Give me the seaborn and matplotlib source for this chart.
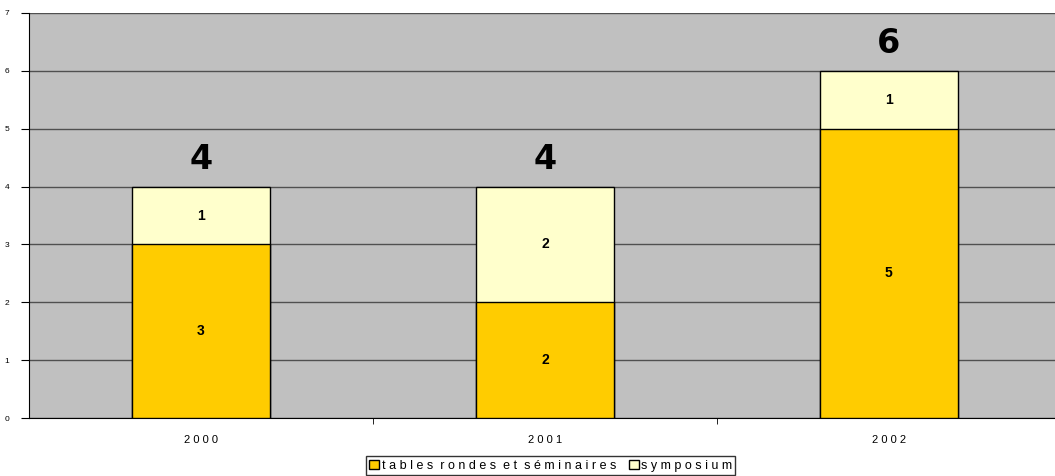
import pandas as pd
import seaborn as sns
import matplotlib.pyplot as plt
import numpy as np

# Data
years = ['2000', '2001', '2002']
tables_rondes = [3, 2, 5]
symposium = [1, 2, 1]
legend_labels = ['tables rondes et séminaires', 'symposium']

df = pd.DataFrame({'year': years, 'tables': tables_rondes, 'symposium': symposium})
df['total'] = df['tables'] + df['symposium']


def spaced(s):
    # the original chart draws its labels with wide letter spacing
    return '  '.join(' '.join(w) for w in s.split(' '))


sns.set_style('white')
plt.rcParams['font.family'] = ['Liberation Sans', 'DejaVu Sans']
plt.rcParams['text.color'] = 'black'
plt.rcParams['xtick.color'] = 'black'
plt.rcParams['ytick.color'] = 'black'

fig = plt.figure(figsize=(10.55, 4.76), dpi=100)
ax = fig.add_axes([0.0275, 0.1218, 0.978, 0.8509])
ax.set_facecolor('#C0C0C0')

# stacked bars: totals (top segment colour) then bottom segment over it
sns.barplot(data=df, x='year', y='total', color='#FFFFCC', edgecolor='black',
            linewidth=1, width=0.4, saturation=1, ax=ax, zorder=3)
sns.barplot(data=df, x='year', y='tables', color='#FFCC00', edgecolor='black',
            linewidth=1, width=0.4, saturation=1, ax=ax, zorder=4)

for i, row in df.iterrows():
    ax.text(i, row['tables'] / 2, str(row['tables']), ha='center', va='center',
            fontsize=10, fontweight='bold', zorder=5)
    ax.text(i, row['tables'] + row['symposium'] / 2, str(row['symposium']),
            ha='center', va='center', fontsize=10, fontweight='bold', zorder=5)
    ax.text(i, row['total'] + 0.47, str(row['total']), ha='center', va='center',
            fontsize=24, fontweight='bold', family='DejaVu Sans', zorder=5)

ax.set_ylim(0, 7)
ax.set_xlim(-0.5, 2.5)
ax.set_yticks(range(8))
ax.yaxis.grid(True, color='#505050', linewidth=1, zorder=0)
ax.set_axisbelow(True)
ax.tick_params(axis='y', labelsize=6, length=6, direction='out', left=True, pad=8)

# x ticks between categories, labels centred
ax.set_xticks(range(len(years)))
ax.set_xticklabels([spaced(y) for y in years], fontsize=8)
ax.set_xticks([0.5, 1.5], minor=True)
ax.tick_params(axis='x', which='major', length=0, pad=12)
ax.tick_params(axis='x', which='minor', length=4, direction='out', bottom=True)
ax.set_xlabel('')
ax.set_ylabel('')

for side in ['top', 'right']:
    ax.spines[side].set_visible(False)
ax.spines['left'].set_color('black')
ax.spines['bottom'].set_color('black')

handles = [plt.Rectangle((0, 0), 1, 1, facecolor='#FFCC00', edgecolor='black', linewidth=1),
           plt.Rectangle((0, 0), 1, 1, facecolor='#FFFFCC', edgecolor='black', linewidth=1)]
leg = fig.legend(handles, [spaced(s) for s in legend_labels], loc='lower center',
                 bbox_to_anchor=(0.522, 0.0), ncol=2, fontsize=9, frameon=True,
                 fancybox=False, handlelength=0.8, handleheight=0.8, handletextpad=0.2,
                 columnspacing=1.0, borderpad=0.25, borderaxespad=0.1)
leg.get_frame().set_edgecolor('black')
leg.get_frame().set_linewidth(1)

fig.savefig('out.png', dpi=100)
